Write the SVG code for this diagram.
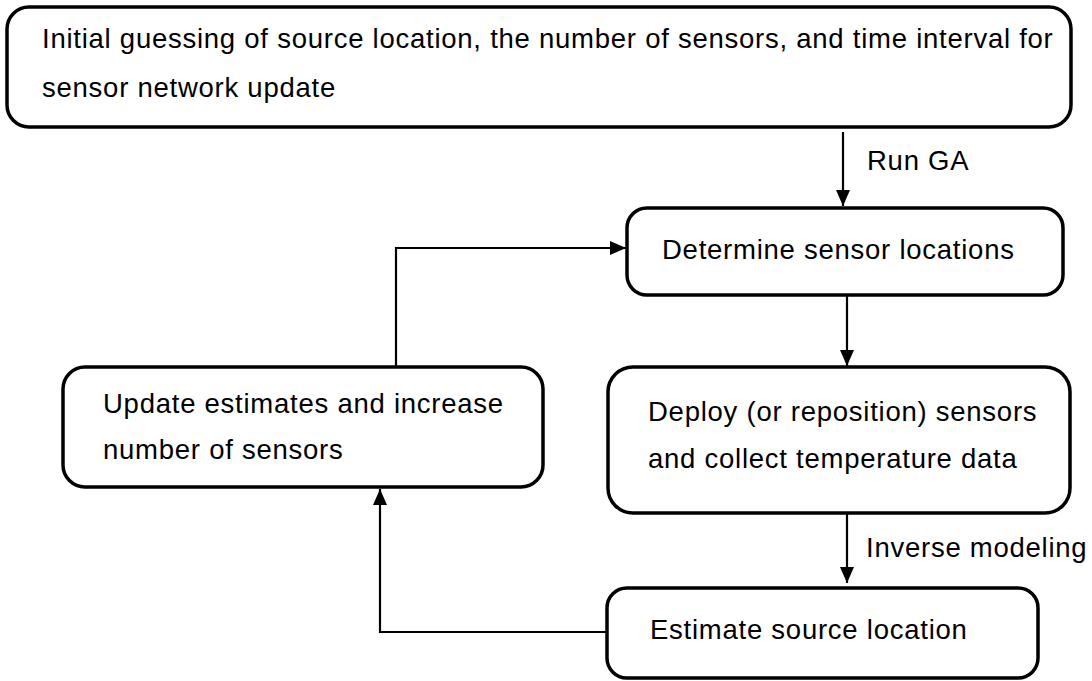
<svg xmlns="http://www.w3.org/2000/svg" width="1092" height="681" viewBox="0 0 1092 681">
<style>
.box{fill:#fff;stroke:#000;stroke-width:3.5}
.t{font-family:"Liberation Sans",Arial,sans-serif;font-size:27.5px;letter-spacing:0.75px;fill:#000}
.c{fill:none;stroke:#000;stroke-width:2.2}
</style>
<defs>
<marker id="ah" markerUnits="userSpaceOnUse" markerWidth="16" markerHeight="16" viewBox="0 0 16 16" refX="16" refY="8" orient="auto">
<path d="M0,1 L16,8 L0,15 Z" fill="#000"/>
</marker>
</defs>
<rect width="1092" height="681" fill="#fff"/>
<g id="connectors">
<line class="c" x1="843" y1="132" x2="843" y2="206" marker-end="url(#ah)"/>
<text class="t" x="867" y="170">Run GA</text>
<line class="c" x1="847" y1="296" x2="847" y2="366" marker-end="url(#ah)"/>
<line class="c" x1="847" y1="514" x2="847" y2="583" marker-end="url(#ah)"/>
<text class="t" x="866" y="557">Inverse modeling</text>
<polyline class="c" points="607,632 380,632 380,489" marker-end="url(#ah)"/>
<polyline class="c" points="396,366 396,248 626,248" marker-end="url(#ah)"/>
</g>
<g id="n1">
<rect class="box" x="7" y="7" width="1064" height="120" rx="22"/>
<text class="t" x="42" y="48">Initial guessing of source location, the number of sensors, and time interval for</text>
<text class="t" x="42" y="97">sensor network update</text>
</g>
<g id="n2">
<rect class="box" x="627" y="208" width="436" height="87" rx="20"/>
<text class="t" x="662" y="259">Determine sensor locations</text>
</g>
<g id="n3">
<rect class="box" x="608" y="367" width="462" height="146" rx="25"/>
<text class="t" x="648" y="421">Deploy (or reposition) sensors</text>
<text class="t" x="648" y="468">and collect temperature data</text>
</g>
<g id="n4">
<rect class="box" x="607" y="588" width="431" height="90" rx="20"/>
<text class="t" x="650" y="639">Estimate source location</text>
</g>
<g id="n5">
<rect class="box" x="63" y="367" width="480" height="120" rx="22"/>
<text class="t" x="103" y="413">Update estimates and increase</text>
<text class="t" x="103" y="459">number of sensors</text>
</g>
</svg>
